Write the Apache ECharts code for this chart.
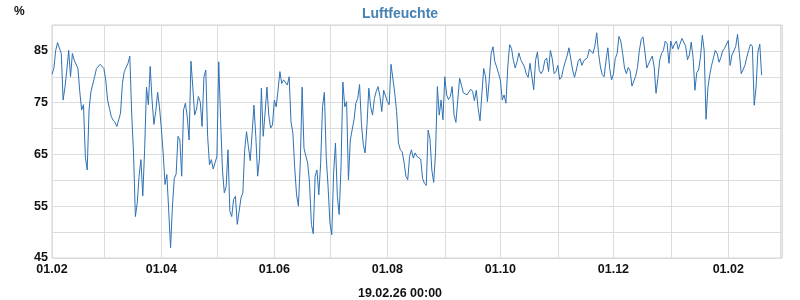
<!DOCTYPE html>
<html><head><meta charset="utf-8">
<script src="https://cdn.jsdelivr.net/npm/echarts@6/dist/echarts.min.js"></script>
<style>html,body{margin:0;padding:0;background:#fff}#c{width:800px;height:300px}</style>
</head><body><div id="c"></div>
<script>
// Daily relative humidity (%), one value per day starting 01.02.2025
const startDate = [2025, 1, 1];
const axisEnd = [2026, 2, 2];
const humidity = [
80.5, 81.6, 85.1, 86.6, 86.7, 84.5, 75.5, 78, 81.3, 85.1,
80, 84.5, 83.2, 83.1, 81.6, 77.1, 73.6, 74.6, 64.5, 62,
73.6, 77.1, 76.8, 80, 81.6, 81.8, 82.4, 82.1, 81.6, 79.4,
75.5, 73.9, 72.3, 71.6, 71.2, 70.4, 70.1, 73, 78.7, 81,
81, 82.6, 84, 73, 65.3, 53, 55.6, 60.8, 64, 57,
66,
78, 74.6, 82, 75.5, 70.8, 73.3, 77, 74.2, 70.1, 65.3,
59.2, 61.1, 61.4, 47, 55, 60.4, 61.2, 68.5, 67.8, 60.8,
73.6, 74.9, 72.2, 67.8, 83, 78, 72.6, 73.8, 76.2, 75.2,
70.4, 80, 81.3, 68.5, 63, 64, 62.2, 62, 64.6, 82.9,
71.7, 62, 57.6, 58.8, 65.9, 54, 53, 56.3,
56.9, 51.5, 51.2, 56.6, 57.6, 65.9, 69.4, 66.5, 63.8, 69.1,
74.5, 68.5, 60.8, 64.3, 77.8, 68.5, 73, 78, 72.6, 70.1,
70.7, 75.5, 74.2, 77.4,
81,
78.7, 79.4, 79.4, 78.4, 80, 71.3, 69.1, 62.4, 57.2, 55,
63.3, 78, 66.2, 64.7, 63.3, 59.5, 51.5, 49.7, 60.8, 62,
57.2, 63.3, 74.2, 77,
64.6, 58.8, 51.8, 49.5, 61.4, 67.2, 56.9, 53.4, 62.7, 79,
74.2, 75.2, 60.1, 67.8, 67.5, 71.7, 74.9, 75.8, 78.5, 71,
66.9, 65.3, 70.7, 77.8, 74.2, 72.6, 75.8, 77.2, 78.1, 76.2,
73.3, 77.4, 77.6, 75.2, 74.6, 82.4, 82.1, 76.8, 73.3, 67.2,
65.9, 65.5, 63.5, 60.8, 60.1, 64.6, 65.9, 64.3, 65.3,
64.6, 64.5, 64.1, 60.4, 59.4, 59, 69.7, 68, 62, 59.6,
65.3, 78.1, 72.6, 75.5, 71.7, 80, 76.5, 75.6, 76.2, 78.1,
72.6, 71.2, 75.5, 79.7, 78.4, 76.9,
76.7,
76.5, 76.3, 77.6, 77.2, 75.4, 77.4, 73.9, 71.5, 71.7, 81.6,
80, 75.2, 79.4, 84.5, 85.8, 82.9, 81.9, 81.8, 79.4, 75.5,
76.5,
74.9, 81.9, 86.2, 85.5, 83.2, 81.7, 82.9, 84.6, 83.3, 83.1,
81.9, 80.5, 79.9, 82.6, 82.6, 77.5, 83.2, 84.8, 81.2, 80.6,
81.3, 83.2, 83.6, 81, 85.1, 83.5, 80.6, 81, 82.2, 79.5,
79.9, 81.6, 82.9, 84, 85.6, 85.6, 81.3, 79.9, 81.3, 83,
83.5, 82.2, 83.1, 83, 83.7, 85.3,
85.1, 84.5, 85.9, 88.5, 84.5, 81.9, 80.4, 80, 83.1, 85.6,
81.6, 79.4, 80.5, 83.5, 84.5, 87.8, 86.9, 84.5, 81.7, 80.6,
81.8, 81.2, 78.2, 78.1, 80.1, 81.8, 85, 87.2, 87.7, 84.8,
81.7, 81.6, 83.3, 84, 81.9, 76.8, 79.7, 83.2, 84.5, 85.1,
86.9, 86.4, 82.6, 86.9, 85.4, 86.3, 86.9, 85.3, 86.4, 87.4,
87.4, 85.9,
83.3, 84.2, 86.7, 83.8, 77.4, 80.8, 81.3, 83.8, 88, 85.1,
71.8, 77.8, 80.4, 82.2, 82.2, 85.1, 84.5, 82.8, 83.7, 85,
85.5, 85.5, 87, 82.2, 84.2, 84.5, 85.8, 88.2, 84.5, 80.6,
80.3, 82.2, 83.8, 85.1, 86.3, 85.9, 74.5, 78, 84.8, 86.3,
80.3
];
const yLabelValues = [45, 55, 65, 75, 85];
const xLabelMonths = [1, 3, 5, 7, 9, 11]; // Feb, Apr, Jun, Aug, Oct, Dec (0-based months)
const titleText = 'Luftfeuchte';
const unitText = '%';
const stampText = '19.02.26 00:00';

const pad = n => (n < 10 ? '0' : '') + n;
const seriesData = humidity.map((v, i) =>
  [new Date(startDate[0], startDate[1], startDate[2] + i).getTime(), v]);

const FONT = 'Liberation Sans, Arial, sans-serif';
const chart = echarts.init(document.getElementById('c'), null, {renderer: 'canvas'});
chart.setOption({
  animation: false,
  backgroundColor: '#fff',
  title: [
    {text: titleText, left: 'center', top: 2,
     textStyle: {fontFamily: FONT, fontSize: 14, fontWeight: 'bold', color: '#4682b4'}},
    {text: unitText, left: 9, top: 1,
     textStyle: {fontFamily: FONT, fontSize: 12, fontWeight: 'bold', color: '#111'}},
    {text: stampText, left: 'center', top: 282,
     textStyle: {fontFamily: FONT, fontSize: 12.5, fontWeight: 'bold', color: '#111'}}
  ],
  grid: {left: 52, right: 18, top: 25, bottom: 42, show: true,
         borderColor: '#d2d2d2', borderWidth: 1, containLabel: false},
  xAxis: {
    type: 'time',
    min: new Date(startDate[0], startDate[1], startDate[2]).getTime(),
    max: new Date(axisEnd[0], axisEnd[1], axisEnd[2]).getTime(),
    minInterval: 28 * 864e5, maxInterval: 31 * 864e5,
    axisLine: {show: false}, axisTick: {show: false},
    splitLine: {show: true, lineStyle: {color: '#dcdcdc', width: 1}},
    axisLabel: {
      fontFamily: FONT, fontSize: 12.5, fontWeight: 'bold', color: '#111', margin: 5,
      showMinLabel: true, showMaxLabel: false, hideOverlap: false,
      formatter: function (val) {
        const d = new Date(val);
        if (d.getDate() !== 1 || xLabelMonths.indexOf(d.getMonth()) < 0) return '';
        return pad(d.getDate()) + '.' + pad(d.getMonth() + 1);
      }
    }
  },
  yAxis: {
    type: 'value', min: 45, max: 90, interval: 5,
    axisLine: {show: false}, axisTick: {show: false},
    splitLine: {show: true, lineStyle: {color: '#dcdcdc', width: 1}},
    axisLabel: {
      fontFamily: FONT, fontSize: 12.5, fontWeight: 'bold', color: '#111', margin: 4,
      formatter: v => yLabelValues.indexOf(v) >= 0 ? String(v) : ''
    }
  },
  series: [{
    type: 'line', data: seriesData, showSymbol: false, symbol: 'none',
    lineStyle: {color: '#2f72b3', width: 1}, itemStyle: {color: '#2f72b3'}
  }]
});
</script></body></html>
